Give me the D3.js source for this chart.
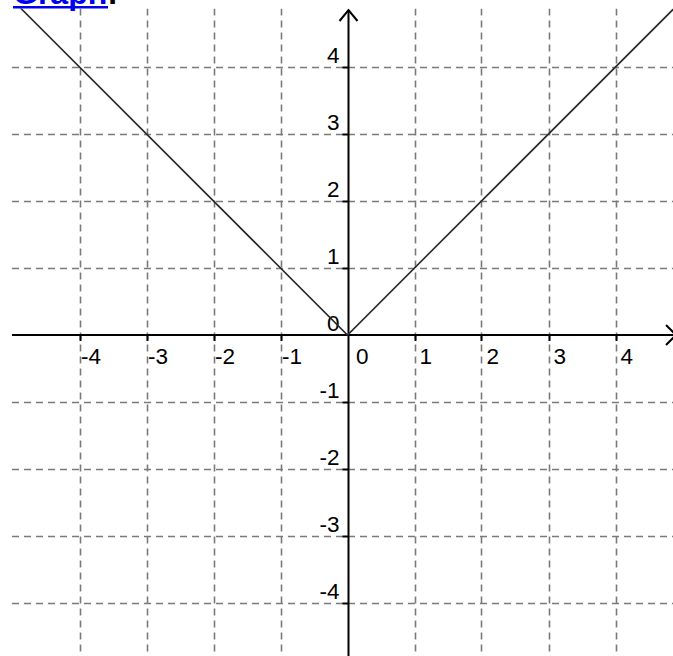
<!DOCTYPE html>
<head>
    <meta charset="utf-8">
<script src="https://d3js.org/d3.v7.min.js"></script>
</head>
<style>
  body { margin: 0; background: #fff; }
  svg { display: block; }
</style>
<body>
<svg id="graph" width="673" height="656"></svg>
<script>
// values
const xTicks = [-4, -3, -2, -1, 0, 1, 2, 3, 4]
const yTicks = [-4, -3, -2, -1, 0, 1, 2, 3, 4]
const lineX = [-5, 0, 5]
const lineY = [5, 0, 5]
const title = "Graph"

const svg = d3.select("#graph"),
    width = +svg.attr("width"),
    height = +svg.attr("height")

const plotTop = 8.5, plotLeft = 12

// one unit is about 67px, origin at (347.5, 335)
const x = d3.scaleLinear().domain([-5, 5]).range([12.5, 682.5])
const y = d3.scaleLinear().domain([-5, 5]).range([670, 0])

svg.append("rect").attr("width", width).attr("height", height).attr("fill", "#fff")

svg.append("clipPath").attr("id", "plot")
  .append("rect")
    .attr("x", plotLeft).attr("y", plotTop)
    .attr("width", width - plotLeft).attr("height", height - plotTop)

const g = svg.append("g").attr("clip-path", "url(#plot)")

// dashed grid
g.selectAll(".vgrid")
  .data(xTicks.filter(d => d != 0))
  .join("line")
    .attr("x1", d => Math.round(x(d)) + 0.5).attr("x2", d => Math.round(x(d)) + 0.5)
    .attr("y1", plotTop).attr("y2", height)
    .attr("stroke", "#7a7a7a").attr("stroke-width", 1.6)
    .attr("stroke-dasharray", "7,5")

g.selectAll(".hgrid")
  .data(yTicks.filter(d => d != 0))
  .join("line")
    .attr("y1", d => Math.round(y(d)) + 0.5).attr("y2", d => Math.round(y(d)) + 0.5)
    .attr("x1", plotLeft).attr("x2", width)
    .attr("stroke", "#7a7a7a").attr("stroke-width", 1.6)
    .attr("stroke-dasharray", "7,5")

// axes
const x0 = Math.round(x(0)) + 0.5, y0 = Math.round(y(0))
g.append("line")
    .attr("x1", plotLeft).attr("x2", width + 5)
    .attr("y1", y0).attr("y2", y0)
    .attr("stroke", "#000").attr("stroke-width", 2)
g.append("line")
    .attr("x1", x0).attr("x2", x0)
    .attr("y1", 10).attr("y2", height)
    .attr("stroke", "#000").attr("stroke-width", 2)

// arrow heads
g.append("path")
    .attr("d", `M${x0 - 9},${21} L${x0},${10} L${x0 + 9},${21}`)
    .attr("fill", "none").attr("stroke", "#000").attr("stroke-width", 2)
g.append("path")
    .attr("d", `M${width - 7},${y0 - 10} L${width + 3},${y0} L${width - 7},${y0 + 10}`)
    .attr("fill", "none").attr("stroke", "#000").attr("stroke-width", 2)

// tick marks
g.selectAll(".xtick")
  .data(xTicks.filter(d => d != 0))
  .join("line")
    .attr("x1", d => Math.round(x(d)) + 0.5).attr("x2", d => Math.round(x(d)) + 0.5)
    .attr("y1", y0).attr("y2", y0 + 6)
    .attr("stroke", "#000").attr("stroke-width", 2)
g.selectAll(".ytick")
  .data(yTicks.filter(d => d != 0))
  .join("line")
    .attr("y1", d => Math.round(y(d)) + 0.5).attr("y2", d => Math.round(y(d)) + 0.5)
    .attr("x1", x0 - 6).attr("x2", x0)
    .attr("stroke", "#000").attr("stroke-width", 2)

// tick labels
g.selectAll(".xlab")
  .data(xTicks)
  .join("text")
    .attr("x", d => d == 0 ? x(0) + 8.5 : (d < 0 ? x(d) + 1.5 : x(d) + 5))
    .attr("y", y0 + 29)
    .attr("font-family", "'Liberation Sans', Arial, sans-serif")
    .attr("font-size", 22.5)
    .text(d => String(d))
g.selectAll(".ylab")
  .data(yTicks)
  .join("text")
    .attr("text-anchor", "end")
    .attr("x", x0 - 9)
    .attr("y", d => y(d) - 4)
    .attr("font-family", "'Liberation Sans', Arial, sans-serif")
    .attr("font-size", 22.5)
    .text(d => String(d))

// the V line
g.append("path")
    .datum(lineX.map((d, i) => [d, lineY[i]]))
    .attr("d", d3.line().x(d => x(d[0])).y(d => y(d[1])))
    .attr("fill", "none").attr("stroke", "#2a2a2a").attr("stroke-width", 1.6)

// title link, mostly cut off at the top
const t = svg.append("text")
    .attr("x", 13).attr("y", 4)
    .attr("font-family", "'Liberation Sans', Arial, sans-serif")
    .attr("font-weight", "bold")
    .attr("font-size", 32)
t.append("tspan").attr("fill", "#0000ee").text(title)
t.append("tspan").attr("fill", "#000").text(":")
svg.append("rect")
    .attr("x", 13).attr("y", 6)
    .attr("width", 95).attr("height", 2.5)
    .attr("fill", "#0000ee")
</script>
</body>
